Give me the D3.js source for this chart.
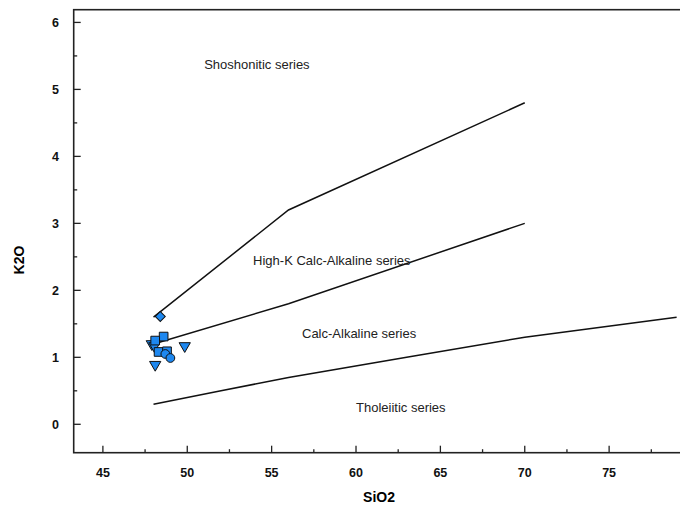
<!DOCTYPE html>
<html>
<head>
<meta charset="utf-8">
<script src="https://cdn.jsdelivr.net/npm/d3@7"></script>
<style>
  body { margin: 0; background: #fff; }
  svg { display: block; font-family: "Liberation Sans", Arial, sans-serif; }
</style>
</head>
<body>
<script>
// series boundaries (Peccerillo & Taylor style), SiO2 vs K2O
const shoshoniticLine = [[48, 1.6], [56, 3.2], [70, 4.8]];
const highKLine = [[48, 1.2], [56, 1.8], [70, 3.0]];
const tholeiiticLine = [[48, 0.3], [52, 0.5], [56, 0.7], [63, 1.0], [70, 1.3], [79, 1.6]];

// samples, grouped by marker
const diamonds = [[48.4, 1.61]];
const squares = [[48.6, 1.31], [48.1, 1.25], [48.3, 1.08], [48.8, 1.09]];
const circles = [[48.7, 1.05], [49.0, 0.99]];
const triangles = [[47.9, 1.2], [48.05, 1.17], [49.85, 1.17], [48.1, 0.89]];

const xTicks = [45, 50, 55, 60, 65, 70, 75];
const yTicks = [0, 1, 2, 3, 4, 5, 6];

const labels = [
  { text: "Shoshonitic series", x: 51.0, y: 5.31 },
  { text: "High-K Calc-Alkaline series", x: 53.9, y: 2.38 },
  { text: "Calc-Alkaline series", x: 56.8, y: 1.29 },
  { text: "Tholeiitic series", x: 60.0, y: 0.18 }
];

const W = 680, H = 506;
const x = d3.scaleLinear().domain([43.27, 80]).range([73.7, 693.5]);
const y = d3.scaleLinear().domain([-0.424, 6.19]).range([452.7, 9.7]);

let svg = d3.select("body").append("svg")
    .attr("width", W)
    .attr("height", H);

// frame: left, bottom, top (right edge falls outside the window)
svg.append("rect")
    .attr("x", x.range()[0]).attr("y", y.range()[1])
    .attr("width", x.range()[1] - x.range()[0])
    .attr("height", y.range()[0] - y.range()[1])
    .attr("fill", "none")
    .attr("stroke", "#222")
    .attr("stroke-width", 1.6);

// ticks pointing inward
let xMinor = d3.range(45, 80, 2.5).filter(v => v % 5 !== 0);
let yMinor = d3.range(0.5, 6, 1);

svg.append("g").selectAll("line").data(xTicks).join("line")
    .attr("x1", d => x(d)).attr("x2", d => x(d))
    .attr("y1", y.range()[0]).attr("y2", y.range()[0] - 7)
    .attr("stroke", "#222").attr("stroke-width", 1.3);
svg.append("g").selectAll("line").data(xMinor).join("line")
    .attr("x1", d => x(d)).attr("x2", d => x(d))
    .attr("y1", y.range()[0]).attr("y2", y.range()[0] - 3.5)
    .attr("stroke", "#222").attr("stroke-width", 1.3);
svg.append("g").selectAll("line").data(yTicks).join("line")
    .attr("x1", x.range()[0]).attr("x2", x.range()[0] + 7)
    .attr("y1", d => y(d)).attr("y2", d => y(d))
    .attr("stroke", "#222").attr("stroke-width", 1.3);
svg.append("g").selectAll("line").data(yMinor).join("line")
    .attr("x1", x.range()[0]).attr("x2", x.range()[0] + 3.5)
    .attr("y1", d => y(d)).attr("y2", d => y(d))
    .attr("stroke", "#222").attr("stroke-width", 1.3);

// tick labels
svg.append("g").selectAll("text").data(xTicks).join("text")
    .attr("x", d => x(d)).attr("y", 476.5)
    .attr("text-anchor", "middle")
    .attr("font-size", 12.5).attr("font-weight", "bold")
    .attr("fill", "#111")
    .text(d => d);
svg.append("g").selectAll("text").data(yTicks).join("text")
    .attr("x", 59).attr("y", d => y(d) + 4.5)
    .attr("text-anchor", "end")
    .attr("font-size", 12.5).attr("font-weight", "bold")
    .attr("fill", "#111")
    .text(d => d);

// axis titles
svg.append("text")
    .attr("x", 379).attr("y", 502)
    .attr("text-anchor", "middle")
    .attr("font-size", 14).attr("font-weight", "bold")
    .text("SiO2");
svg.append("text")
    .attr("transform", "translate(24,260) rotate(-90)")
    .attr("text-anchor", "middle")
    .attr("font-size", 14).attr("font-weight", "bold")
    .text("K2O");

// boundary lines
let line = d3.line().x(d => x(d[0])).y(d => y(d[1]));
[shoshoniticLine, highKLine, tholeiiticLine].forEach(l => {
  svg.append("path")
      .attr("d", line(l))
      .attr("fill", "none")
      .attr("stroke", "#111")
      .attr("stroke-width", 1.5);
});

// field labels
svg.append("g").selectAll("text").data(labels).join("text")
    .attr("x", d => x(d.x)).attr("y", d => y(d.y))
    .attr("font-size", 13)
    .attr("fill", "#222")
    .text(d => d.text);

// samples
const blue = "#1e88f0";
function drawSymbols(data, type, size, rot) {
  svg.append("g").selectAll("path").data(data).join("path")
      .attr("transform", d => `translate(${x(d[0])},${y(d[1])}) rotate(${rot})`)
      .attr("d", d3.symbol().type(type).size(size))
      .attr("fill", blue)
      .attr("stroke", "#111")
      .attr("stroke-width", 1);
}
drawSymbols(triangles, d3.symbolTriangle, 55, 180);
drawSymbols(squares, d3.symbolSquare, 75, 0);
drawSymbols(circles, d3.symbolCircle, 60, 0);
drawSymbols(diamonds, d3.symbolSquare, 50, 45);
</script>
</body>
</html>
